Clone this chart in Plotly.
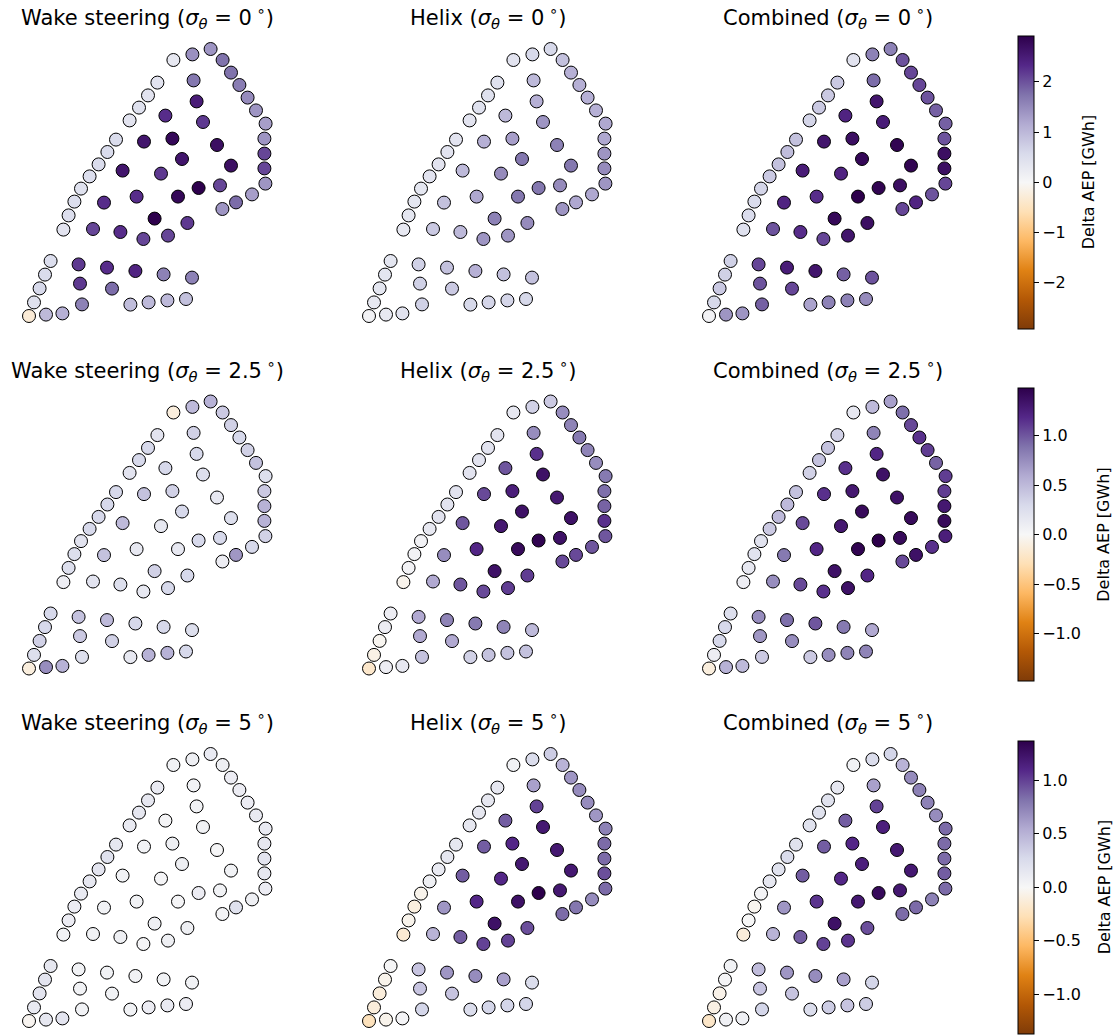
import plotly.graph_objects as go

# Turbine layout (km, local farm coordinates)
turbine_x = [7.22, 8.17, 9.08, 9.68, 10.10, 10.52, 10.93, 11.35, 11.83, 11.77, 11.77, 11.77, 11.82, 11.15, 10.35, 9.67,
             6.42, 5.95, 5.50, 5.03, 4.35, 3.92, 3.48, 3.03, 2.60, 2.27, 1.98, 1.72,
             8.23, 8.38, 6.82, 8.70, 5.75, 7.17, 9.40, 7.65, 10.10, 4.68, 6.60, 5.38, 7.45, 8.48, 9.55, 3.75,
             6.28, 7.92, 3.20, 4.57, 5.72, 6.95,
             1.08, 0.80, 0.53, 0.25, 0.00, 0.85, 1.67, 2.48, 2.55, 2.65, 3.90, 4.15, 5.32, 6.73, 8.15, 5.07,
             5.98, 6.92, 7.85]
turbine_y = [12.80, 13.08, 13.35, 12.80, 12.17, 11.55, 10.92, 10.28, 9.62, 8.87, 8.12, 7.38, 6.62, 6.08, 5.68, 5.35,
             11.67, 11.03, 10.42, 9.78, 8.82, 8.20, 7.58, 6.98, 6.37, 5.72, 5.03, 4.32,
             11.78, 10.73, 10.02, 9.70, 8.72, 8.87, 8.55, 7.85, 7.52, 7.27, 7.12, 5.97, 5.97, 6.40, 6.53, 5.67,
             4.87, 4.65, 4.35, 4.20, 3.85, 4.02,
             2.75, 2.07, 1.38, 0.68, 0.00, 0.07, 0.13, 2.58, 1.62, 0.58, 2.42, 1.37, 2.25, 2.08, 1.92, 0.57,
             0.68, 0.78, 0.85]

strategies = ["Wake steering", "Helix", "Combined"]
sigma_labels = ["0", "2.5", "5"]
colorbar_title = "Delta AEP [GWh]"

# Delta AEP per turbine [GWh]
ws_0 = [0.30, 1.45, 1.40, 1.75, 1.75, 1.65, 1.50, 1.40, 1.30, 1.40, 2.10, 2.10, 1.40, 1.30, 1.80, 1.40,
        0.40, 0.40, 0.45, 0.40, 0.55, 0.55, 0.55, 0.50, 0.45, 0.50, 0.50, 0.40,
        1.70, 2.50, 2.30, 2.20, 2.60, 2.80, 2.70, 2.60, 2.70, 2.60, 2.20, 2.30, 2.80, 2.90, 2.10, 2.30,
        2.90, 2.20, 2.10, 2.30, 2.10, 2.10,
        0.50, 0.55, 0.60, 0.45, -0.30, 1.00, 1.10, 2.20, 2.20, 1.60, 2.30, 1.80, 2.40, 1.60, 1.60, 0.95,
        1.00, 1.00, 0.90]
helix_0 = [0.40, 0.60, 0.60, 0.90, 1.10, 1.10, 1.10, 1.10, 1.20, 1.20, 1.40, 1.50, 1.40, 1.20, 1.20, 1.40,
           0.45, 0.45, 0.45, 0.40, 0.40, 0.40, 0.40, 0.40, 0.35, 0.35, 0.35, 0.30,
           1.00, 1.10, 1.00, 1.40, 1.10, 1.30, 1.60, 1.70, 1.70, 1.00, 1.50, 1.20, 1.70, 1.70, 1.50, 0.90,
           1.60, 1.50, 0.80, 1.00, 1.40, 1.40,
           0.35, 0.35, 0.35, 0.30, 0.10, 0.30, 0.40, 0.70, 0.70, 0.70, 0.90, 0.80, 1.10, 0.90, 0.90, 0.60,
           0.65, 0.65, 0.60]
comb_0 = [0.40, 1.60, 1.60, 2.00, 2.10, 2.10, 2.00, 1.90, 1.90, 2.00, 2.70, 2.70, 2.10, 2.00, 2.40, 2.10,
          0.80, 0.80, 0.80, 0.65, 0.90, 0.95, 0.90, 0.80, 0.65, 0.55, 0.55, 0.45,
          1.80, 2.60, 2.40, 2.50, 2.60, 2.70, 2.85, 2.80, 2.85, 2.50, 2.40, 2.30, 2.92, 2.85, 2.70, 2.40,
          2.80, 2.70, 2.00, 2.30, 2.10, 2.60,
          0.70, 0.70, 0.80, 0.60, 0.10, 1.40, 1.40, 2.10, 2.00, 1.90, 2.50, 2.10, 2.60, 1.90, 2.00, 1.25,
          1.60, 1.60, 1.50]
ws_25 = [-0.12, 0.50, 0.55, 0.40, 0.35, 0.30, 0.35, 0.45, 0.25, 0.40, 0.55, 0.55, 0.35, 0.30, 0.70, 0.10,
         0.20, 0.30, 0.30, 0.20, 0.30, 0.30, 0.30, 0.30, 0.20, 0.25, 0.25, 0.10,
         0.35, 0.30, 0.30, 0.25, 0.45, 0.35, 0.15, 0.30, 0.25, 0.50, 0.15, 0.15, 0.15, 0.30, 0.30, 0.45,
         0.35, 0.30, 0.20, 0.25, 0.15, 0.30,
         0.30, 0.30, 0.35, 0.25, -0.12, 0.75, 0.55, 0.45, 0.40, 0.25, 0.50, 0.35, 0.30, 0.30, 0.25, 0.15,
         0.55, 0.55, 0.30]
helix_25 = [0.15, 0.35, 0.40, 0.75, 0.80, 0.85, 0.80, 0.75, 0.85, 0.90, 0.95, 1.15, 1.00, 1.00, 1.05, 1.05,
            0.20, 0.20, 0.20, 0.20, 0.20, 0.20, 0.20, 0.15, 0.05, 0.05, 0.05, -0.05,
            0.75, 1.15, 1.00, 1.35, 1.05, 1.25, 1.30, 1.35, 1.35, 1.00, 1.30, 1.20, 1.40, 1.45, 1.35, 0.75,
            1.35, 1.10, 0.60, 1.00, 1.05, 1.10,
            0.10, 0.10, -0.03, -0.08, -0.20, 0.10, 0.15, 0.60, 0.60, 0.45, 0.80, 0.60, 0.85, 0.80, 0.50, 0.35,
            0.45, 0.45, 0.45]
comb_25 = [0.15, 0.50, 0.65, 0.90, 1.05, 1.15, 1.10, 0.95, 1.10, 1.10, 1.30, 1.40, 1.25, 1.15, 1.35, 1.05,
           0.35, 0.45, 0.45, 0.35, 0.45, 0.50, 0.50, 0.40, 0.20, 0.20, 0.15, 0.10,
           0.80, 1.20, 1.15, 1.35, 1.15, 1.30, 1.35, 1.40, 1.40, 1.05, 1.30, 1.20, 1.45, 1.48, 1.40, 0.85,
           1.35, 1.20, 0.75, 1.05, 1.15, 1.35,
           0.25, 0.30, 0.30, 0.10, -0.12, 0.55, 0.50, 0.75, 0.70, 0.40, 0.90, 0.75, 1.00, 0.85, 0.60, 0.40,
           0.75, 0.80, 0.80]
ws_5 = [0.05, 0.08, 0.12, 0.08, 0.10, 0.10, 0.10, 0.12, 0.12, 0.15, 0.18, 0.15, 0.10, 0.08, 0.20, 0.03,
        0.12, 0.15, 0.15, 0.12, 0.15, 0.20, 0.18, 0.15, 0.12, 0.10, 0.10, 0.05,
        0.05, 0.05, 0.03, 0.05, 0.05, 0.08, 0.02, 0.08, 0.05, 0.05, 0.03, 0.05, 0.03, 0.10, 0.05, 0.05,
        0.08, 0.08, 0.05, 0.08, 0.03, 0.08,
        0.15, 0.18, 0.18, 0.12, -0.03, 0.15, 0.18, 0.05, 0.05, 0.05, 0.05, 0.05, 0.05, 0.05, 0.05, 0.05,
        0.10, 0.12, 0.10]
helix_5 = [0.05, 0.25, 0.35, 0.50, 0.65, 0.70, 0.70, 0.65, 0.75, 0.85, 0.85, 0.95, 0.85, 0.70, 0.80, 0.85,
           0.15, 0.15, 0.15, 0.15, 0.15, 0.15, 0.12, 0.08, -0.05, -0.10, -0.05, -0.15,
           0.60, 1.00, 0.90, 1.20, 0.90, 1.10, 1.20, 1.20, 1.20, 0.90, 1.10, 1.10, 1.25, 1.37, 1.20, 0.65,
           1.25, 0.95, 0.50, 0.90, 1.00, 1.00,
           0.02, -0.05, -0.12, -0.12, -0.25, -0.05, 0.03, 0.40, 0.40, 0.30, 0.65, 0.40, 0.70, 0.60, 0.25, 0.25,
           0.30, 0.30, 0.30]
comb_5 = [0.05, 0.25, 0.30, 0.50, 0.70, 0.75, 0.75, 0.70, 0.85, 0.85, 0.85, 0.90, 0.85, 0.75, 0.85, 0.85,
          0.15, 0.20, 0.20, 0.20, 0.20, 0.25, 0.20, 0.15, 0.03, -0.04, 0.00, -0.12,
          0.60, 1.00, 0.90, 1.15, 0.90, 1.10, 1.20, 1.15, 1.20, 0.90, 1.10, 1.05, 1.20, 1.30, 1.20, 0.65,
          1.25, 0.95, 0.50, 0.90, 1.00, 1.05,
          0.05, 0.03, -0.06, -0.08, -0.20, 0.07, 0.07, 0.45, 0.40, 0.30, 0.65, 0.40, 0.70, 0.60, 0.30, 0.25,
          0.35, 0.40, 0.35]

delta_aep = [[ws_0, helix_0, comb_0],
             [ws_25, helix_25, comb_25],
             [ws_5, helix_5, comb_5]]

colorbar_ticks = [[-2, -1, 0, 1, 2],
                  [-1.0, -0.5, 0.0, 0.5, 1.0],
                  [-1.0, -0.5, 0.0, 0.5, 1.0]]
colorbar_formats = ["d", ".1f", ".1f"]

# matplotlib PuOr (orange = negative, purple = positive)
puor = ["#7f3b08", "#b35806", "#e08214", "#fdb863", "#fee0b6", "#f7f7f7",
        "#d8daeb", "#b2abd2", "#8073ac", "#542788", "#2d004b"]
colorscale = [[i / (len(puor) - 1), c] for i, c in enumerate(puor)]

# page geometry (pixels)
W, H = 1119, 1036
FONT = "DejaVu Sans"
px_per_km = 20.0
origin_x = 29.0          # pixel column of x = 0 in the first column of panels
origin_y = 316.0         # pixel row of y = 0 in the first row of panels
col_step = 340.0
row_step = 352.5
x_pad_km = 0.8
y_top_km = 14.1
cb_title_x = [1088, 1104, 1104]   # colorbar label column per row

fig = go.Figure()
annotations = []

for r in range(3):
    vmax = max(abs(v) for panel in delta_aep[r] for v in panel)
    cax = "coloraxis" if r == 0 else f"coloraxis{r + 1}"
    for c in range(3):
        idx = r * 3 + c + 1
        ox = origin_x + c * col_step
        oy = origin_y + r * row_step
        x_rng = [-x_pad_km, 12.6]
        left = ox + x_rng[0] * px_per_km
        right = ox + x_rng[1] * px_per_km
        bottom = min(oy + 0.7 * px_per_km, H)
        top = oy - y_top_km * px_per_km
        y_rng = [-(bottom - oy) / px_per_km, (oy - top) / px_per_km]
        xa = "xaxis" if idx == 1 else f"xaxis{idx}"
        ya = "yaxis" if idx == 1 else f"yaxis{idx}"
        fig.update_layout({
            xa: dict(domain=[left / W, right / W], range=x_rng, visible=False, fixedrange=True),
            ya: dict(domain=[max(0.0, 1 - bottom / H), 1 - top / H], range=y_rng,
                     visible=False, fixedrange=True),
        })
        fig.add_trace(go.Scatter(
            x=turbine_x, y=turbine_y, mode="markers",
            xaxis="x" if idx == 1 else f"x{idx}",
            yaxis="y" if idx == 1 else f"y{idx}",
            marker=dict(size=13, color=delta_aep[r][c], coloraxis=cax,
                        line=dict(color="black", width=1)),
            cliponaxis=False, showlegend=False,
        ))
        annotations.append(dict(
            text=f"{strategies[c]} (<i>σ</i><sub><i>θ</i></sub> = {sigma_labels[r]}<sup> ∘</sup>)",
            x=(ox + 118.5) / W, y=1 - (17 + r * row_step) / H,
            xref="paper", yref="paper", xanchor="center", yanchor="middle",
            showarrow=False, font=dict(family=FONT, size=21, color="black"),
        ))

    cb_top = 35.7 + r * row_step
    cb_len = 293.0
    cb_mid = 1 - (cb_top + cb_len / 2) / H
    fig.update_layout({cax: dict(
        colorscale=colorscale, cmin=-vmax, cmax=vmax,
        colorbar=dict(
            x=1018 / W, xanchor="left", xpad=0, ypad=0,
            y=cb_mid, yanchor="middle",
            thickness=16, thicknessmode="pixels", len=cb_len, lenmode="pixels",
            outlinecolor="black", outlinewidth=1,
            ticks="outside", ticklen=5, tickwidth=1, tickcolor="black",
            tickvals=colorbar_ticks[r], tickformat=colorbar_formats[r],
            tickfont=dict(family=FONT, size=16, color="black"),
        ),
    )})
    annotations.append(dict(
        text=colorbar_title, textangle=-90,
        x=cb_title_x[r] / W, y=cb_mid, xref="paper", yref="paper",
        xanchor="center", yanchor="middle", showarrow=False,
        font=dict(family=FONT, size=16, color="black"),
    ))

fig.update_layout(
    width=W, height=H,
    margin=dict(l=0, r=0, t=0, b=0),
    paper_bgcolor="white", plot_bgcolor="white",
    font=dict(family=FONT, color="black"),
    annotations=annotations,
)

fig.write_html("out.html")
